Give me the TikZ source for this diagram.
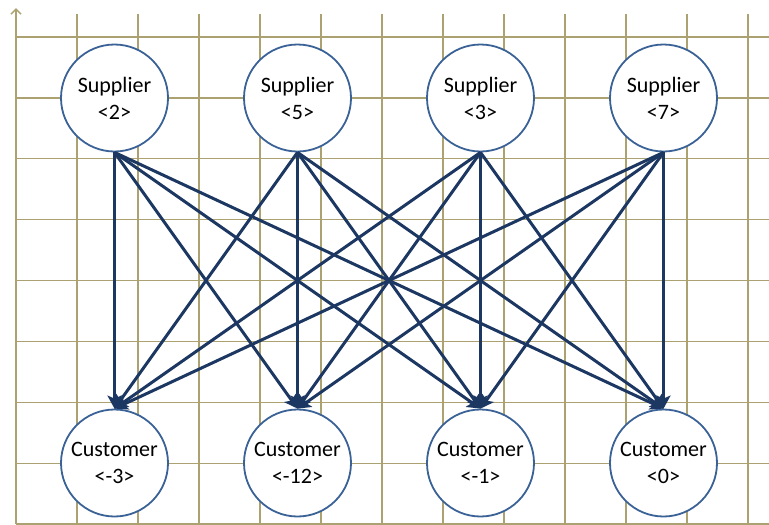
\documentclass[tikz,border=0pt]{standalone}
\usepackage{fontspec}
\setmainfont{Carlito}
\usetikzlibrary{arrows.meta}
\definecolor{gridc}{RGB}{172,161,112}
\definecolor{arrowc}{RGB}{28,55,98}
\definecolor{circc}{RGB}{58,98,150}
\tikzset{
  gridline/.style={draw=gridc, line width=1.2pt},
  party/.style={circle, draw=circc, line width=1.8pt, fill=white, minimum size=107pt, inner sep=0pt, align=center, font=\fontsize{22}{27}\selectfont},
  flow/.style={draw=arrowc, line width=3pt, -{Stealth[length=13pt,width=14pt,inset=3pt]}}
}
\begin{document}
\begin{tikzpicture}[x=1pt,y=-1pt]
\useasboundingbox (0,0) rectangle (769,525);
% grid
\foreach \i in {0,...,11} {
  \draw[gridline] ({77+61*\i},14) -- ({77+61*\i},524);
}
\foreach \j in {0,...,7} {
  \draw[gridline] (16,{37+60.9*\j}) -- (769,{37+60.9*\j});
}
% axes
\coordinate (ybot) at (16,524);
\coordinate (ytop) at (16,8);
\coordinate (xend) at (769,524);
\draw[gridline, line width=1.5pt, -{Straight Barb[length=5pt,width=10pt]}] (ybot) -- (ytop);
\draw[gridline, line width=1.5pt] (ybot) -- (xend);
% nodes
\node[party] (s1) at (114.5,98) {Supplier\\<2>};
\node[party] (s2) at (297.5,98) {Supplier\\<5>};
\node[party] (s3) at (480.5,98) {Supplier\\<3>};
\node[party] (s4) at (663.5,98) {Supplier\\<7>};
\node[party] (c1) at (114.5,463) {Customer\\<-3>};
\node[party] (c2) at (297.5,463) {Customer\\<-12>};
\node[party] (c3) at (480.5,463) {Customer\\<-1>};
\node[party] (c4) at (663.5,463) {Customer\\<0>};
% arrows
\foreach \s in {1,2,3,4} {
  \foreach \c in {1,2,3,4} {
    \draw[flow] (s\s.south) -- (c\c.north);
  }
}
\end{tikzpicture}
\end{document}
